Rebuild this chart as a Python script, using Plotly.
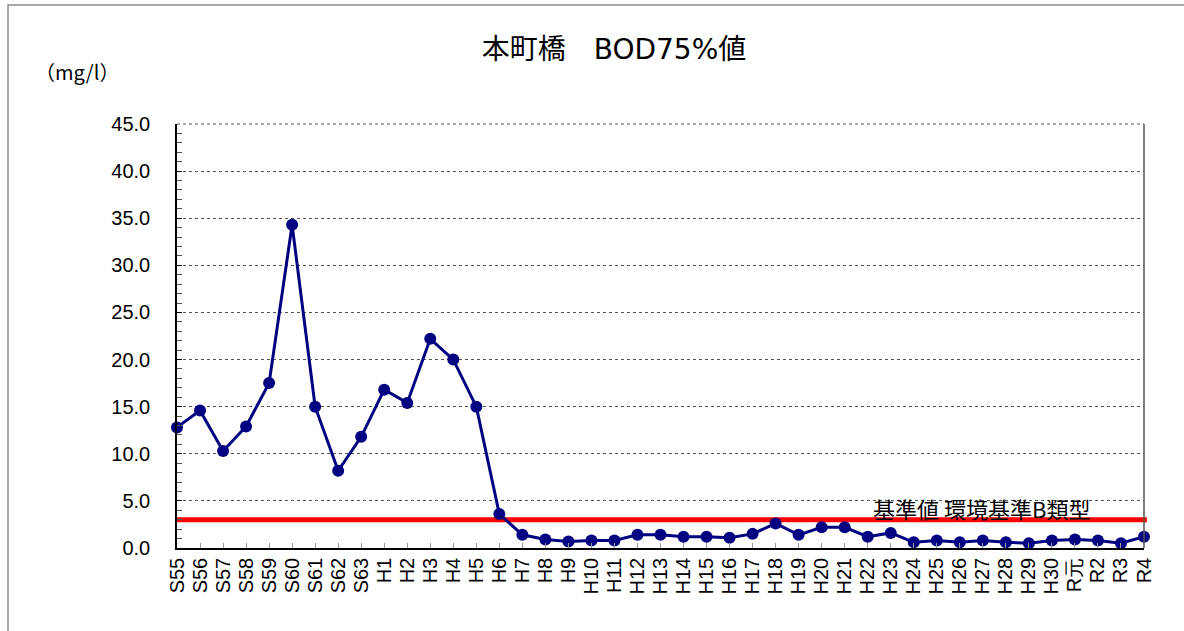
import plotly.graph_objects as go

categories = ["S55", "S56", "S57", "S58", "S59", "S60", "S61", "S62", "S63",
              "H1", "H2", "H3", "H4", "H5", "H6", "H7", "H8", "H9", "H10",
              "H11", "H12", "H13", "H14", "H15", "H16", "H17", "H18", "H19", "H20",
              "H21", "H22", "H23", "H24", "H25", "H26", "H27", "H28", "H29", "H30",
              "R元", "R2", "R3", "R4"]
bod75 = [12.8, 14.6, 10.3, 12.9, 17.5, 34.3, 15.0, 8.2, 11.8,
         16.8, 15.4, 22.2, 20.0, 15.0, 3.6, 1.4, 0.9, 0.7, 0.8,
         0.8, 1.4, 1.4, 1.2, 1.2, 1.1, 1.5, 2.6, 1.4, 2.2,
         2.2, 1.2, 1.6, 0.6, 0.8, 0.6, 0.8, 0.6, 0.5, 0.8,
         0.9, 0.8, 0.5, 1.2]
standard_value = 3.0
standard_label = "基準値 環境基準B類型"
title_text = "本町橋　BOD75%値"
unit_label = "（mg/l）"
y_ticks = [0, 5, 10, 15, 20, 25, 30, 35, 40, 45]

W, H = 1184, 631
L, R, T, B = 177, 40, 124, 83
pw = W - L - R
ph = H - T - B

fig = go.Figure()
fig.add_trace(go.Scatter(
    x=categories, y=bod75, mode="lines+markers",
    line=dict(color="#000080", width=3),
    marker=dict(color="#000080", size=12),
    cliponaxis=False, showlegend=False,
))

fig.add_shape(type="line", xref="paper", yref="y", x0=0, x1=1.003,
              y0=standard_value, y1=standard_value,
              line=dict(color="#ff0000", width=5), layer="below")

fig.add_annotation(xref="paper", yref="y", x=(981 - L) / pw, y=standard_value,
                   xanchor="center", yanchor="middle", yshift=12, showarrow=False,
                   text=standard_label,
                   font=dict(family="Noto Sans CJK JP", size=22, color="#000000"))

fig.add_annotation(xref="paper", yref="paper", x=(77 - L) / pw,
                   y=1 + (T - 72) / ph, showarrow=False,
                   text=unit_label, xanchor="center", yanchor="middle",
                   font=dict(family="Noto Sans CJK JP", size=20, color="#000000"))

# outer border
fig.add_shape(type="rect", xref="paper", yref="paper",
              x0=(8 - L) / pw, x1=(1200 - L) / pw,
              y0=-(B + 20) / ph, y1=1 + (T - 5) / ph,
              line=dict(color="#8c8c8c", width=1.5), fillcolor="rgba(0,0,0,0)")

fig.update_layout(
    width=W, height=H,
    margin=dict(l=L, r=R, t=T, b=B),
    paper_bgcolor="white", plot_bgcolor="white",
    title=dict(text=title_text, x=614 / W, xanchor="center", y=1 - 49 / H, yanchor="middle",
               font=dict(family="DejaVu Sans, Noto Sans CJK JP", size=28, color="#000000")),
    font=dict(family="Liberation Sans, Arial", color="#000000"),
)

fig.update_xaxes(
    type="category", range=[0, len(categories) - 1],
    tickmode="array", tickvals=categories, ticktext=categories,
    tickangle=-90, tickfont=dict(size=20, family="Liberation Sans, Arial"),
    ticks="inside", ticklen=5, tickcolor="#999999",
    showline=True, linecolor="#000000", linewidth=1.5,
    mirror=False, showgrid=False, zeroline=False,
)
fig.update_yaxes(
    range=[0, 45], tickvals=y_ticks, tickformat=".1f",
    tickfont=dict(size=20, family="Liberation Sans, Arial"),
    ticks="inside", ticklen=5, tickcolor="#000000",
    minor=dict(dtick=1, ticks="inside", ticklen=5, tickcolor="#555555", showgrid=False),
    showline=True, linecolor="#000000", linewidth=1.5,
    showgrid=True, gridcolor="#555555", griddash="dot", gridwidth=1,
    zeroline=False, ticklabelstandoff=21,
)
# right and top borders
fig.add_shape(type="line", xref="paper", yref="paper", x0=1, x1=1, y0=0, y1=1,
              line=dict(color="#555555", width=1.5))
fig.add_shape(type="line", xref="paper", yref="paper", x0=0, x1=1, y0=1, y1=1,
              line=dict(color="#555555", width=1, dash="dot"))

fig.write_html("out.html", config={"displayModeBar": False},
               post_script="document.body.style.margin='0';document.body.style.overflow='hidden';")
